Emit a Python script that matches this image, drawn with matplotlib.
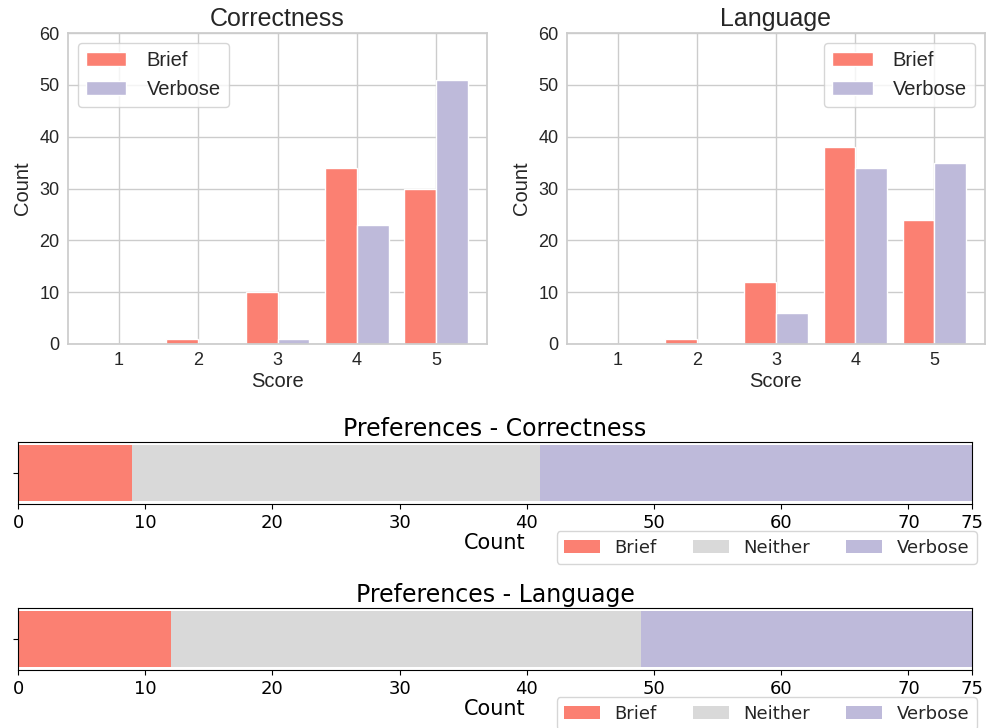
import numpy as np
import matplotlib
matplotlib.use("Agg")
import matplotlib.pyplot as plt
import seaborn as sns

scores = [1, 2, 3, 4, 5]
corr_brief = [0, 1, 10, 34, 30]
corr_verbose = [0, 0, 1, 23, 51]
lang_brief = [0, 1, 12, 38, 24]
lang_verbose = [0, 0, 6, 34, 35]

pref_labels = ["Brief", "Neither", "Verbose"]
pref_corr = [9, 32, 34]
pref_lang = [12, 37, 26]
pref_ticks = [0, 10, 20, 30, 40, 50, 60, 70, 75]

c_brief = "#fb8072"
c_neither = "#d9d9d9"
c_verbose = "#bebada"

sns.set_style("whitegrid")
plt.rcParams['font.family'] = ['Liberation Sans', 'DejaVu Sans']

fig = plt.figure(figsize=(9.88, 7.28), dpi=100)
W, H = 988, 728

def px_axes(x0, y0, x1, y1):
    return fig.add_axes([x0 / W, 1 - y1 / H, (x1 - x0) / W, (y1 - y0) / H])

# top: score histograms
x = np.array(scores)
w = 0.4
for (x0, x1), title, brief, verbose, loc in [((68, 487), "Correctness", corr_brief, corr_verbose, "upper left"),
                                            ((567, 985), "Language", lang_brief, lang_verbose, "upper right")]:
    ax = px_axes(x0, 33, x1, 344)
    ax.bar(x - w / 2, brief, w, color=c_brief, edgecolor="white", label="Brief")
    ax.bar(x + w / 2, verbose, w, color=c_verbose, edgecolor="white", label="Verbose")
    ax.set_ylim(0, 60)
    ax.set_xticks(scores)
    ax.set_title(title, fontsize=18, pad=5)
    ax.set_xlabel("Score", fontsize=14.5, labelpad=2)
    ax.set_ylabel("Count", fontsize=14.5, labelpad=5)
    ax.tick_params(labelsize=13, pad=6, length=0)
    ax.grid(True, color="#cccccc", linewidth=1)
    ax.legend(loc=loc, fontsize=14.5, handlelength=2.0, handletextpad=1.0)
    for s in ax.spines.values():
        s.set_color("#cccccc")
        s.set_linewidth(1.25)

# bottom: stacked preference bars
for (y0, y1), title, vals in [((442, 504), "Preferences - Correctness", pref_corr),
                             ((608, 670), "Preferences - Language", pref_lang)]:
    ax = px_axes(18, y0, 972, y1)
    left = 0
    for lab, v, c in zip(pref_labels, vals, [c_brief, c_neither, c_verbose]):
        ax.barh(0, v, left=left, color=c, linewidth=0, label=lab)
        left += v
    ax.set_xlim(0, 75)
    ax.grid(False)
    ax.set_xticks(pref_ticks, [str(t) for t in pref_ticks], fontfamily="DejaVu Sans")
    ax.set_yticks([0], [""])
    ax.tick_params(bottom=True, left=True, labelsize=13, pad=3.5, length=3.5, width=0.8,
                   color="k", labelcolor="k")
    for s in ax.spines.values():
        s.set_color("k")
        s.set_linewidth(0.8)
    ax.set_title(title, fontsize=17, pad=4, fontfamily="DejaVu Sans", color="k")
    ax.set_xlabel("Count", fontsize=15, labelpad=1, fontfamily="DejaVu Sans", color="k")
    ax.legend(loc="upper right", bbox_to_anchor=(1.005, -0.44), borderaxespad=0, ncol=3,
              prop={"family": "DejaVu Sans", "size": 13})

fig.savefig("out.png", dpi=100)
